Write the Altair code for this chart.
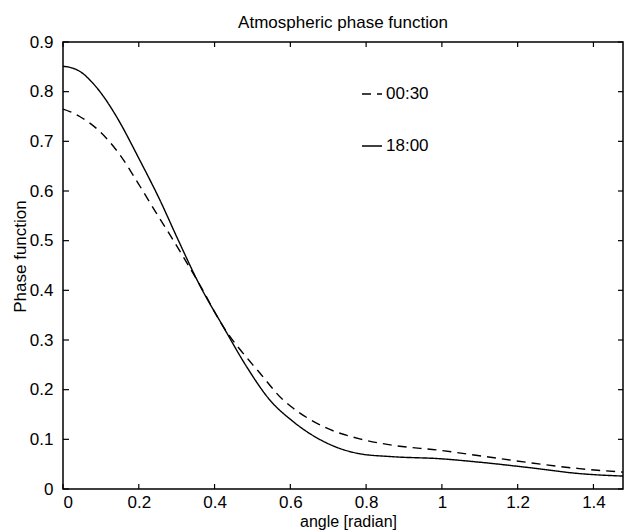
import altair as alt
import pandas as pd

# ---------------- data ----------------
title_text = "Atmospheric phase function"
x_title = "angle [radian]"
y_title = "Phase function"
series_names = ["00:30", "18:00"]

x_0030 = [0.0, 0.018, 0.044, 0.097, 0.150, 0.198, 0.246, 0.282, 0.361, 0.422,
          0.501, 0.519, 0.580, 0.607, 0.695, 0.783, 0.871, 0.994, 1.099, 1.231,
          1.363, 1.478]
y_0030 = [0.765, 0.760, 0.750, 0.720, 0.673, 0.616, 0.556, 0.512, 0.411, 0.328,
          0.250, 0.234, 0.180, 0.163, 0.123, 0.101, 0.088, 0.078, 0.067, 0.053,
          0.041, 0.034]

x_1800 = [0.0, 0.018, 0.044, 0.079, 0.110, 0.141, 0.202, 0.255, 0.303, 0.361,
          0.422, 0.484, 0.545, 0.607, 0.695, 0.783, 0.871, 0.994, 1.099, 1.231,
          1.363, 1.478]
y_1800 = [0.851, 0.849, 0.841, 0.817, 0.787, 0.750, 0.663, 0.583, 0.503, 0.410,
          0.328, 0.247, 0.180, 0.136, 0.093, 0.071, 0.065, 0.061, 0.054, 0.043,
          0.031, 0.026]

x_ticks = [0, 0.2, 0.4, 0.6, 0.8, 1, 1.2, 1.4]
y_ticks = [0, 0.1, 0.2, 0.3, 0.4, 0.5, 0.6, 0.7, 0.8, 0.9]
x_max = 1.478
y_max = 0.9

# ---------------- tables ----------------
df = pd.concat([
    pd.DataFrame({"angle": x_0030, "phase": y_0030, "series": series_names[0]}),
    pd.DataFrame({"angle": x_1800, "phase": y_1800, "series": series_names[1]}),
], ignore_index=True)
xt = pd.DataFrame({"angle": x_ticks})
yt = pd.DataFrame({"phase": y_ticks})

W, H = 560, 447
FONT = "Liberation Sans"
FS = 17

x_scale = alt.Scale(domain=[0, x_max], nice=False, zero=False)
y_scale = alt.Scale(domain=[0, y_max], nice=False, zero=False)

x_axis = alt.Axis(values=x_ticks, format="~g", title=x_title,
                  ticks=False, tickSize=0, domain=False, grid=False,
                  labelPadding=5, labelFont=FONT, labelFontSize=FS,
                  labelColor="black", titleFont=FONT, titleFontSize=16,
                  titleFontWeight="normal", titleColor="black",
                  titleX=285, titleY=37, titleBaseline="alphabetic")
y_axis = alt.Axis(values=y_ticks, format="~g", title=y_title,
                  ticks=False, tickSize=0, domain=False, grid=False,
                  labelPadding=10, labelFont=FONT, labelFontSize=FS,
                  labelColor="black", titleFont=FONT, titleFontSize=FS,
                  titleFontWeight="normal", titleColor="black",
                  titleX=-43, titleY=214, titleBaseline="middle")

lines = alt.Chart(df).mark_line(
    interpolate="monotone", color="black", strokeWidth=1.4
).encode(
    x=alt.X("angle:Q", scale=x_scale, axis=x_axis),
    y=alt.Y("phase:Q", scale=y_scale, axis=y_axis),
    strokeDash=alt.StrokeDash(
        "series:N",
        scale=alt.Scale(domain=series_names, range=[[9, 6], [1, 0]]),
        legend=alt.Legend(orient="none", legendX=298, legendY=41, title=None,
                          symbolType="stroke", symbolSize=400,
                          symbolStrokeWidth=1.5, symbolStrokeColor="black",
                          labelFont=FONT, labelFontSize=FS, labelColor="black",
                          rowPadding=33, labelOffset=3, padding=0,
                          direction="vertical")),
)

tick_len = 5
bottom_ticks = alt.Chart(xt).mark_rule(color="black", strokeWidth=1.2).encode(
    x=alt.X("angle:Q", scale=x_scale, axis=x_axis),
    y=alt.value(H), y2=alt.value(H - tick_len))
top_ticks = alt.Chart(xt).mark_rule(color="black", strokeWidth=1.2).encode(
    x=alt.X("angle:Q", scale=x_scale, axis=x_axis),
    y=alt.value(0), y2=alt.value(tick_len))
left_ticks = alt.Chart(yt).mark_rule(color="black", strokeWidth=1.2).encode(
    y=alt.Y("phase:Q", scale=y_scale, axis=y_axis),
    x=alt.value(0), x2=alt.value(tick_len + 1))
right_ticks = alt.Chart(yt).mark_rule(color="black", strokeWidth=1.2).encode(
    y=alt.Y("phase:Q", scale=y_scale, axis=y_axis),
    x=alt.value(W), x2=alt.value(W - tick_len))

chart = alt.layer(lines, bottom_ticks, top_ticks, left_ticks, right_ticks).properties(
    width=W, height=H,
    background="white",
    title=alt.Title(title_text, font=FONT, fontSize=FS, fontWeight="normal",
                    color="black", anchor="middle", frame="group",
                    offset=15, dy=27, baseline="alphabetic"),
    autosize=alt.AutoSizeParams(type="none"),
    padding={"left": 63, "top": 42, "right": 1, "bottom": 43},
).configure_view(
    stroke="black", strokeWidth=1.5
)

chart.save("out.html", embed_options={"renderer": "svg", "actions": False})
